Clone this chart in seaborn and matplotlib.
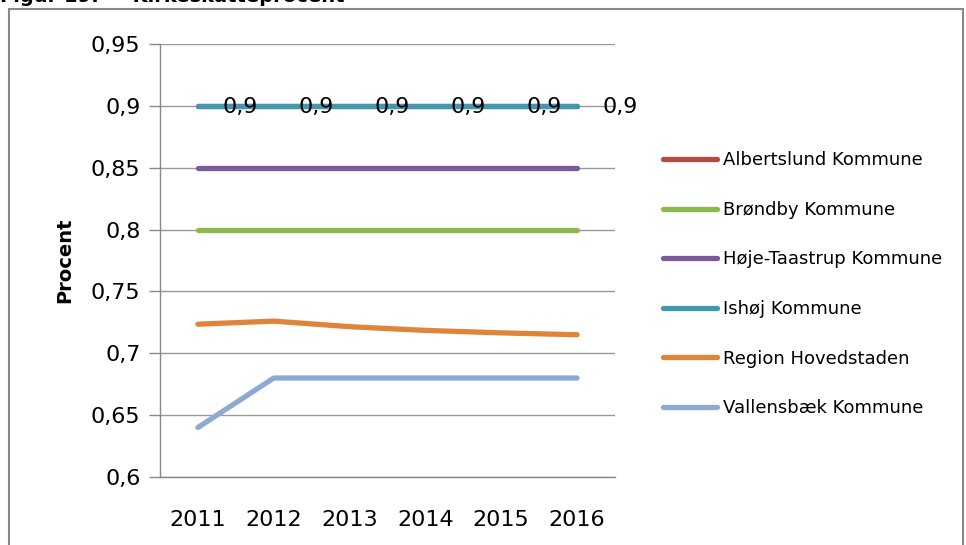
import numpy as np
import pandas as pd
import matplotlib
matplotlib.use("Agg")
import matplotlib.pyplot as plt
import seaborn as sns
from matplotlib.patches import Rectangle
from matplotlib.ticker import FixedLocator, FuncFormatter

years = [2011, 2012, 2013, 2014, 2015, 2016]
albertslund = [0.9, 0.9, 0.9, 0.9, 0.9, 0.9]
broendby = [0.8, 0.8, 0.8, 0.8, 0.8, 0.8]
hoeje_taastrup = [0.85, 0.85, 0.85, 0.85, 0.85, 0.85]
ishoej = [0.9, 0.9, 0.9, 0.9, 0.9, 0.9]
region = [0.7235, 0.726, 0.7215, 0.7185, 0.7165, 0.715]
vallensbaek = [0.64, 0.68, 0.68, 0.68, 0.68, 0.68]

names = ["Albertslund Kommune", "Brøndby Kommune", "Høje-Taastrup Kommune",
         "Ishøj Kommune", "Region Hovedstaden", "Vallensbæk Kommune"]
series = [albertslund, broendby, hoeje_taastrup, ishoej, region, vallensbaek]
colors = ["#b84a45", "#8db84a", "#7a5a9a", "#4198b0", "#e0843a", "#8eaad4"]

rows = []
for name, vals in zip(names, series):
    for i, v in enumerate(vals):
        rows.append({"pos": i, "year": years[i], "kommune": name, "procent": v})
df = pd.DataFrame(rows)

sns.set_style("white")
plt.rcParams['font.family'] = ['DejaVu Sans']
plt.rcParams['text.color'] = 'black'
plt.rcParams['xtick.color'] = 'black'
plt.rcParams['ytick.color'] = 'black'
plt.rcParams['axes.labelcolor'] = 'black'

fig = plt.figure(figsize=(9.66, 5.45), dpi=100)
ax = fig.add_axes([160 / 966, 1 - 477 / 545, 455 / 966, 433 / 545])

# draw order so that Ishøj sits on top of Albertslund
order = ["Albertslund Kommune", "Brøndby Kommune", "Høje-Taastrup Kommune",
         "Region Hovedstaden", "Vallensbæk Kommune", "Ishøj Kommune"]
for name in order:
    sub = df[df["kommune"] == name]
    sns.lineplot(data=sub, x="pos", y="procent", color=colors[names.index(name)],
                 linewidth=3.8, ax=ax, label=name, solid_capstyle="round")

ax.set_xlim(-0.5, 5.5)
ax.set_ylim(0.6, 0.95)
ax.set_yticks(np.arange(0.6, 0.951, 0.05))
ax.yaxis.set_major_formatter(FuncFormatter(lambda v, p: f"{v:.2f}".rstrip("0").replace(".", ",")))
ax.set_xticks(range(len(years)))
ax.set_xticklabels([str(y) for y in years])
ax.xaxis.set_minor_locator(FixedLocator(np.arange(-0.5, 5.6, 1)))
ax.tick_params(axis="x", which="major", length=0, labelsize=16, pad=24, colors="black")
ax.tick_params(axis="x", which="minor", length=8, width=1, color="#888888", direction="out")
ax.tick_params(axis="y", length=8, width=1, color="#888888", labelcolor="black",
               direction="out", labelsize=16, pad=6, left=True)
ax.grid(axis="y", color="#999999", linewidth=1)
ax.set_axisbelow(True)
for s in ["top", "right"]:
    ax.spines[s].set_visible(False)
for s in ["left", "bottom"]:
    ax.spines[s].set_color("#888888")
    ax.spines[s].set_linewidth(1)

ax.set_xlabel("")
ax.set_ylabel("Procent", fontsize=14, fontweight="bold", labelpad=12, color="black")

for i, v in enumerate(ishoej):
    ax.annotate(f"{v}".replace(".", ","), (i, v), xytext=(18, -1), textcoords="offset points",
                ha="left", va="center", fontsize=16, color="black")

handles, labels = ax.get_legend_handles_labels()
hmap = dict(zip(labels, handles))
leg = ax.legend([hmap[n] for n in names], names, loc="upper left",
                bbox_to_anchor=(656 / 966, 1 - 144 / 545), bbox_transform=fig.transFigure,
                frameon=False, fontsize=13, handlelength=3.0, handletextpad=0.3,
                labelspacing=1.75, borderaxespad=0)
for t in leg.get_texts():
    t.set_color("black")

fig.patches.append(Rectangle((9 / 966, -0.05), 954 / 966, 1 - 9 / 545 + 0.05,
                             transform=fig.transFigure, fill=False,
                             edgecolor="#888888", linewidth=1.5))
fig.text(0.0, 1 - 2 / 545, "Figur 19:     Kirkeskatteprocent", fontsize=14,
         fontweight="bold", va="baseline", ha="left")

fig.savefig("out.png", dpi=100)
